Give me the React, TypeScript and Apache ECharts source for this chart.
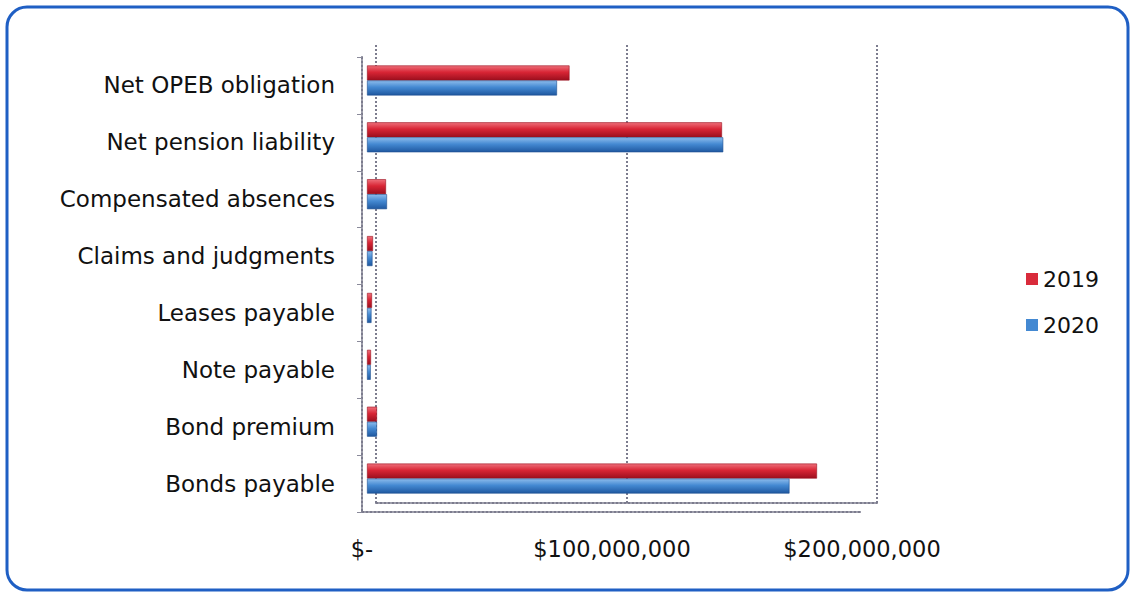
import React, { useEffect, useRef } from "react";
import * as echarts from "echarts";

const categories = [
  "Net OPEB obligation",
  "Net pension liability",
  "Compensated absences",
  "Claims and judgments",
  "Leases payable",
  "Note payable",
  "Bond premium",
  "Bonds payable",
];
const values2019 = [81000000, 142000000, 7600000, 2400000, 2000000, 1600000, 4000000, 180000000];
const values2020 = [76000000, 142500000, 8000000, 2200000, 1800000, 1500000, 4000000, 169000000];
const seriesNames = ["2019", "2020"];
const seriesColors = ["#d92b3b", "#4489d2"];
const tickLabels: Record<number, string> = {
  0: "$-",
  100000000: "$100,000,000",
  200000000: "$200,000,000",
};
const AXIS_MIN = 0;
const AXIS_MAX = 200000000;
const AXIS_STEP = 100000000;

const FONT = "DejaVu Sans";
const WALL = { color: "#7c7c8e", width: 2, type: "dotted" as const };

function barGradient(top: string, mid: string, bottom: string) {
  return new echarts.graphic.LinearGradient(0, 0, 0, 1, [
    { offset: 0, color: top },
    { offset: 0.45, color: mid },
    { offset: 1, color: bottom },
  ]);
}

export default function App() {
  const ref = useRef<HTMLDivElement>(null);
  useEffect(() => {
    document.body.style.margin = "0";
    const chart = echarts.init(ref.current!, null, { renderer: "svg" });
    const valueAxisBase = {
      type: "value",
      min: AXIS_MIN,
      max: AXIS_MAX,
      interval: AXIS_STEP,
    };
    chart.setOption({
      animation: false,
      backgroundColor: "#ffffff",
      color: seriesColors,
      graphic: [
        {
          type: "rect",
          shape: { x: 7, y: 7, width: 1121, height: 583, r: 20 },
          style: { fill: "none", stroke: "#1f5fc4", lineWidth: 3 },
          z: 100,
        },
      ],
      legend: {
        orient: "vertical",
        left: 1021,
        top: 263,
        itemWidth: 12,
        itemHeight: 12,
        itemGap: 24,
        icon: "rect",
        textStyle: { fontFamily: FONT, fontSize: 22, color: "#111" },
        data: seriesNames.map((n, i) => ({
          name: n,
          itemStyle: { color: seriesColors[i], borderWidth: 0 },
        })),
      },
      grid: [
        // back wall
        { left: 376, top: 45, width: 501, height: 458 },
        // front floor edge and category axis
        { left: 362, top: 57, width: 500, height: 455 },
        // bars
        { left: 367, top: 52, width: 500, height: 455 },
      ],
      xAxis: [
        {
          ...valueAxisBase,
          gridIndex: 0,
          axisLine: { show: true, lineStyle: WALL },
          axisTick: { show: false },
          axisLabel: { show: false },
          splitLine: { show: true, lineStyle: WALL },
        },
        {
          ...valueAxisBase,
          gridIndex: 1,
          axisLine: { show: true, lineStyle: WALL },
          axisTick: { show: false },
          splitLine: { show: false },
          axisLabel: {
            fontFamily: FONT,
            fontSize: 22.5,
            color: "#111",
            margin: 25,
            formatter: (v: number) => tickLabels[v] ?? "",
          },
        },
        {
          ...valueAxisBase,
          gridIndex: 2,
          show: false,
        },
      ],
      yAxis: [
        {
          type: "category",
          gridIndex: 0,
          inverse: true,
          data: categories,
          axisLine: { show: false },
          axisTick: { show: false },
          axisLabel: { show: false },
        },
        {
          type: "category",
          gridIndex: 1,
          inverse: true,
          data: categories,
          axisLine: { show: true, lineStyle: WALL },
          axisTick: { show: true, length: 5, lineStyle: { color: "#8a8a9a", width: 1 } },
          axisLabel: {
            fontFamily: FONT,
            fontSize: 23,
            color: "#111",
            margin: 27,
          },
        },
        {
          type: "category",
          gridIndex: 2,
          inverse: true,
          data: categories,
          show: false,
        },
      ],
      series: [
        {
          name: "2019",
          type: "bar",
          xAxisIndex: 2,
          yAxisIndex: 2,
          data: values2019,
          barWidth: 15,
          barGap: "0%",
          itemStyle: {
            color: barGradient("#ee6f7a", "#d82535", "#9c0f1e"),
            borderColor: "#9a1020",
            borderWidth: 0.6,
          },
        },
        {
          name: "2020",
          type: "bar",
          xAxisIndex: 2,
          yAxisIndex: 2,
          data: values2020,
          barWidth: 15,
          barGap: "0%",
          itemStyle: {
            color: barGradient("#8dbcec", "#4489d2", "#1f58a0"),
            borderColor: "#1f4f90",
            borderWidth: 0.6,
          },
        },
      ],
    });
    return () => chart.dispose();
  }, []);
  return <div ref={ref} style={{ width: 1130, height: 593 }} />;
}
